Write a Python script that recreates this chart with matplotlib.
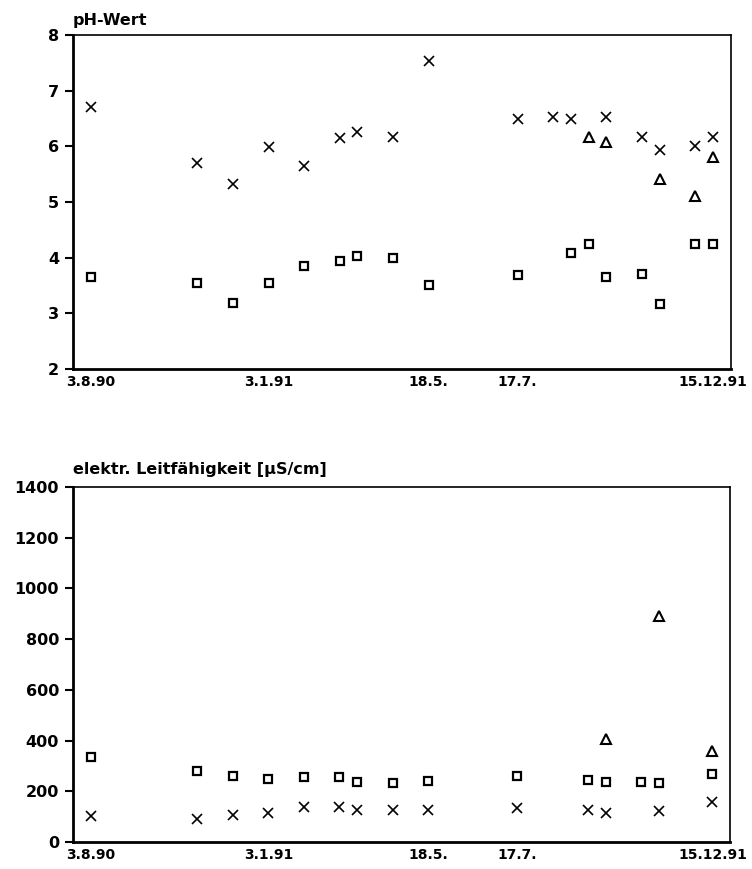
import matplotlib
matplotlib.use("Agg")
import matplotlib.pyplot as plt

plt.rcParams['font.family'] = ['DejaVu Sans']
plt.rcParams['font.weight'] = 'bold'

# sample positions along the time axis (roughly half-month steps)
tick_pos = [0, 10, 19, 24, 35]
tick_labels = ["3.8.90", "3.1.91", "18.5.", "17.7.", "15.12.91"]

# pH-Wert
ph_cross_x = [0, 6, 8, 10, 12, 14, 15, 17, 19, 24, 26, 27, 29, 31, 32, 34, 35]
ph_cross_y = [6.70, 5.70, 5.32, 5.98, 5.64, 6.15, 6.25, 6.17, 7.53, 6.49, 6.53, 6.50, 6.53, 6.16, 5.94, 6.01, 6.17]
ph_square_x = [0, 6, 8, 10, 12, 14, 15, 17, 19, 24, 27, 28, 29, 31, 32, 34, 35]
ph_square_y = [3.66, 3.54, 3.18, 3.55, 3.85, 3.94, 4.03, 4.00, 3.51, 3.68, 4.09, 4.24, 3.66, 3.70, 3.16, 4.24, 4.24]
ph_tri_x = [28, 29, 32, 34, 35]
ph_tri_y = [6.17, 6.08, 5.41, 5.10, 5.80]

# elektr. Leitfaehigkeit
lf_cross_x = [0, 6, 8, 10, 12, 14, 15, 17, 19, 24, 28, 29, 32, 35]
lf_cross_y = [102, 90, 107, 116, 136, 139, 128, 128, 128, 135, 125, 116, 123, 158]
lf_square_x = [0, 6, 8, 10, 12, 14, 15, 17, 19, 24, 28, 29, 31, 32, 35]
lf_square_y = [334, 281, 260, 247, 255, 257, 235, 234, 240, 260, 244, 235, 238, 234, 268]
lf_tri_x = [29, 32, 35]
lf_tri_y = [405, 892, 359]


def style_axes(ax, title, title_pad):
    ax.set_xlim(-1, 36)
    ax.set_xticks(tick_pos)
    ax.set_xticklabels(tick_labels, fontsize=10, fontweight='bold')
    ax.tick_params(axis='x', length=0, pad=4)
    ax.tick_params(axis='y', length=6, width=1.5, direction='out', pad=4, labelsize=11.5)
    for lab in ax.get_yticklabels():
        lab.set_fontweight('bold')
    ax.spines['left'].set_linewidth(2.0)
    ax.spines['bottom'].set_linewidth(2.0)
    ax.spines['top'].set_linewidth(1.2)
    ax.spines['right'].set_linewidth(1.2)
    ax.set_title(title, loc='left', fontsize=11.5, fontweight='bold', pad=title_pad)


def draw_points(ax, cx, cy, sx, sy, tx, ty):
    ax.plot(cx, cy, linestyle='none', marker='x', markersize=7, markeredgewidth=1.2, color='black')
    ax.plot(sx, sy, linestyle='none', marker='s', markersize=6, markeredgewidth=1.6,
            markerfacecolor='none', markeredgecolor='black')
    ax.plot(tx, ty, linestyle='none', marker='^', markersize=7.5, markeredgewidth=1.5,
            markerfacecolor='none', markeredgecolor='black')


fig = plt.figure(figsize=(7.52, 8.69), dpi=100)
ax1 = fig.add_axes([0.097, 0.5754, 0.875, 0.3843])
ax2 = fig.add_axes([0.097, 0.0311, 0.874, 0.4085])

draw_points(ax1, ph_cross_x, ph_cross_y, ph_square_x, ph_square_y, ph_tri_x, ph_tri_y)
ax1.set_ylim(2, 8)
ax1.set_yticks(range(2, 9))
style_axes(ax1, "pH-Wert", 7)

draw_points(ax2, lf_cross_x, lf_cross_y, lf_square_x, lf_square_y, lf_tri_x, lf_tri_y)
ax2.set_ylim(0, 1400)
ax2.set_yticks(range(0, 1401, 200))
style_axes(ax2, "elektr. Leitfähigkeit [µS/cm]", 9)

fig.savefig("out.png", dpi=100)
